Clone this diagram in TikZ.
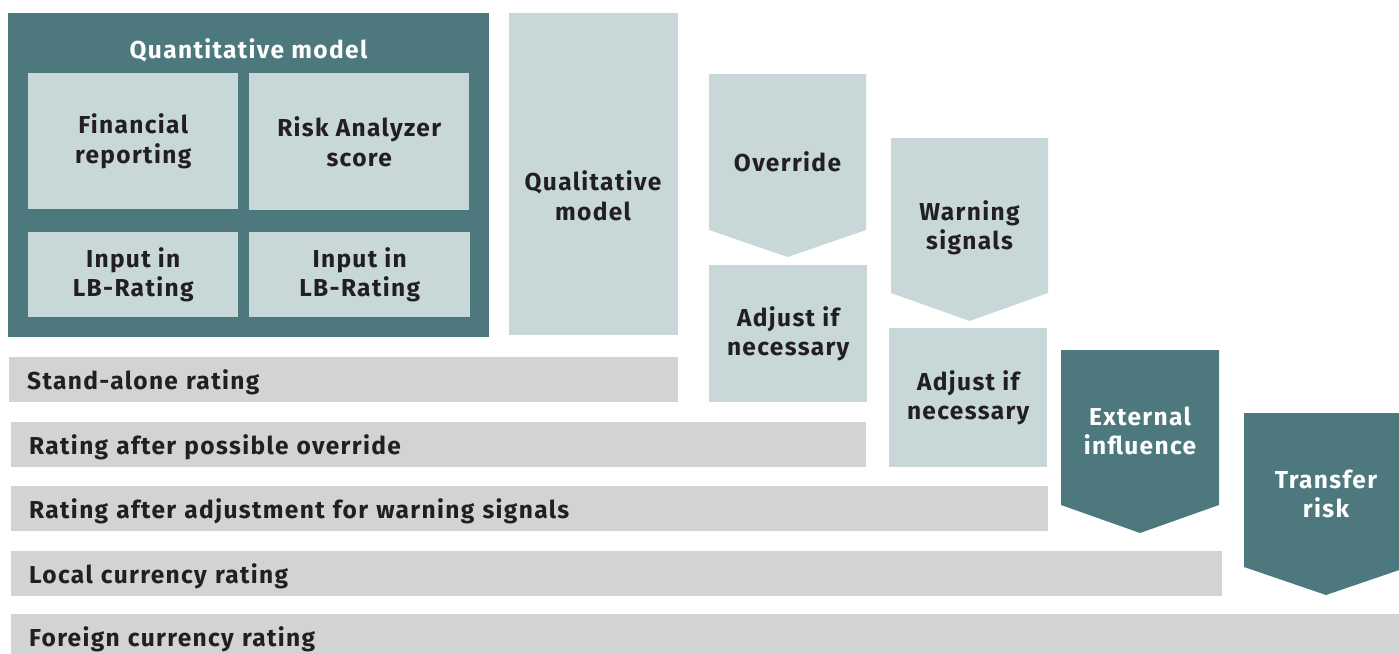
\documentclass[tikz,border=0pt]{standalone}
\usepackage{fontspec}
\setmainfont{Fira Sans}[LetterSpace=5.5]
\definecolor{deepteal}{RGB}{77,120,126}
\definecolor{paleblue}{RGB}{200,216,217}
\definecolor{bargrey}{RGB}{209,211,212}
\definecolor{ink}{RGB}{35,31,32}
\begin{document}
\begin{tikzpicture}[x=1pt,y=-1pt]
        \tikzset{
        txt/.style={font=\bfseries\fontsize{24.5}{29.5}\selectfont, align=center, text=ink, inner sep=0pt},
        box/.style={txt, anchor=north west, fill=paleblue},
        dark/.style={anchor=north west, fill=deepteal, inner sep=0pt},
        white/.style={txt, text=white},
        bar/.style={txt, anchor=north west, fill=bargrey, align=left,
        minimum height=45pt, inner xsep=18pt, text depth=0pt}
        }
        \useasboundingbox (0,0) rectangle (1399,653);
        \clip (0,0) rectangle (1399,653);

        % quantitative part
        \node[dark, minimum width=481pt, minimum height=324pt] (quant) at (8,13) {};
        \node[white] (quanttitle) at (248.5,50) {Quantitative model};
        \node[box, minimum width=210pt, minimum height=136pt] (finrep) at (28,73) {Financial\\reporting};
        \node[box, minimum width=220pt, minimum height=137pt] (riskscore) at (249,73) {Risk Analyzer\\score};
        \node[box, minimum width=210pt, minimum height=85pt] (input1) at (28,232) {Input in\\LB-Rating};
        \node[box, minimum width=221pt, minimum height=85pt] (input2) at (249,232) {Input in\\LB-Rating};

        % qualitative column
        \node[box, minimum width=169pt, minimum height=322pt] (qual) at (509,13) {};
        \node[txt] (qualtext) at (593,196) {Qualitative\\model};

        % override and adjustments
        \fill[paleblue] (709,74) -- (866,74) -- (866,230) -- (787.5,257) -- (709,230) -- cycle;
        \node[txt] (override) at (787.5,162) {Override};
        \node[box, minimum width=158pt, minimum height=137pt] (adjust1) at (709,265) {Adjust if\\necessary};

        \fill[paleblue] (891,138) -- (1048,138) -- (1048,293) -- (969.5,321) -- (891,293) -- cycle;
        \node[txt] (warning) at (969.5,228) {Warning\\signals};
        \node[box, minimum width=158pt, minimum height=139pt] (adjust2) at (889,328) {Adjust if\\necessary};

        % country influences
        \fill[deepteal] (1061,350) -- (1219,350) -- (1219,505) -- (1140,533) -- (1061,505) -- cycle;
        \node[white] (external) at (1140,431) {External\\influence};
        \fill[deepteal] (1244,413) -- (1408,413) -- (1408,567) -- (1326,595) -- (1244,567) -- cycle;
        \node[white] (transfer) at (1326,494) {Transfer\\risk};

        % rating steps
        \node[bar, text width=633pt] (standalone) at (9,357) {Stand-alone rating};
        \node[bar, text width=819pt] (afteroverride) at (11,422) {Rating after possible override};
        \node[bar, text width=1001pt] (afterwarning) at (11,486) {Rating after adjustment for warning signals};
        \node[bar, text width=1175pt] (localcur) at (11,551) {Local currency rating};
        \node[bar, text width=1364pt] (foreigncur) at (11,614) {Foreign currency rating};
\end{tikzpicture}
\end{document}
